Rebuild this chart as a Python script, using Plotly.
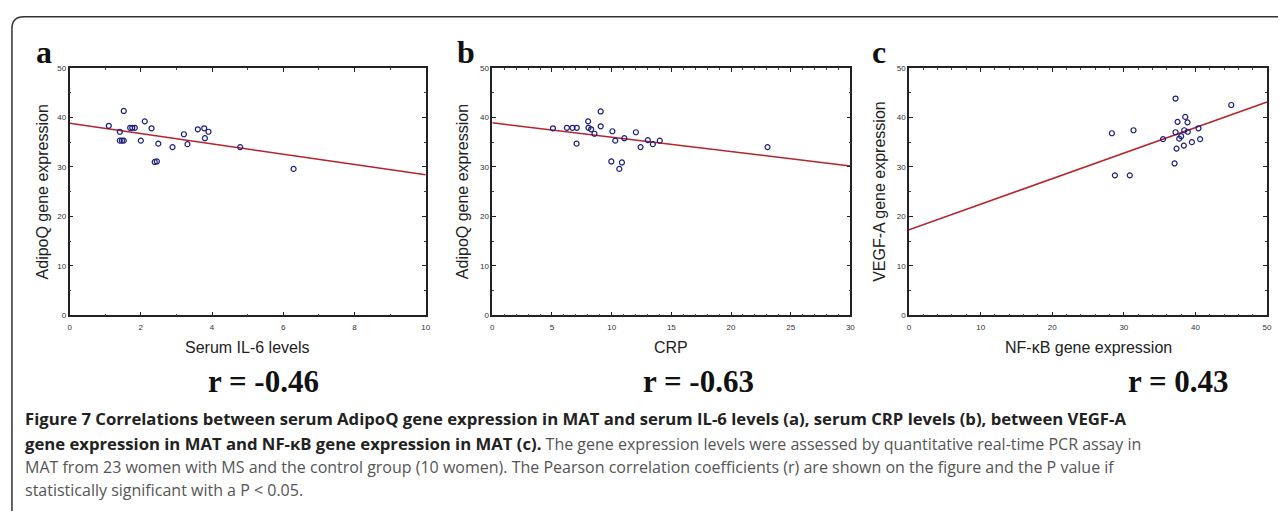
import plotly.graph_objects as go

W, H = 1283, 516

# ---------- data ----------
a_x = [1.10, 1.41, 1.41, 1.47, 1.52, 1.52, 1.70, 1.76, 1.83, 2.11, 2.00, 2.30, 2.49, 2.39, 2.45,
       2.89, 3.21, 3.31, 3.60, 3.78, 3.90, 3.80, 4.79, 6.29]
a_y = [38.3, 37.1, 35.3, 35.3, 35.3, 41.3, 37.9, 37.9, 37.9, 39.2, 35.3, 37.8, 34.7, 31.0, 31.1,
       34.0, 36.6, 34.6, 37.6, 37.8, 37.1, 35.8, 34.0, 29.6]
a_fit_x = [0, 10]
a_fit_y = [38.8, 28.4]

b_x = [5.08, 6.25, 6.72, 7.08, 7.06, 8.03, 8.06, 8.28, 8.56, 9.08, 9.08, 10.06, 9.97, 10.30,
       10.86, 10.64, 11.06, 12.03, 12.42, 13.03, 13.45, 14.03, 23.06]
b_y = [37.8, 37.9, 37.9, 37.9, 34.7, 39.2, 37.9, 37.6, 36.7, 41.2, 38.2, 37.2, 31.1, 35.3,
       30.9, 29.6, 35.8, 37.0, 34.0, 35.4, 34.6, 35.3, 34.0]
b_fit_x = [0, 30]
b_fit_y = [38.9, 30.2]

c_x = [28.33, 28.75, 30.83, 31.35, 35.47, 37.22, 37.50, 37.22, 37.36, 37.08, 37.73, 38.00,
       38.38, 38.43, 38.57, 38.89, 38.93, 39.50, 40.42, 40.65, 45.00]
c_y = [36.8, 28.3, 28.3, 37.4, 35.6, 43.8, 39.1, 37.0, 33.7, 30.7, 35.7, 36.2,
       34.3, 37.4, 40.1, 39.0, 37.1, 35.0, 37.8, 35.6, 42.5]
c_fit_x = [0, 50]
c_fit_y = [17.3, 43.1]

panel_letters = ["a", "b", "c"]
x_titles = ["Serum IL-6 levels", "CRP", "NF-\u03baB gene expression"]
y_titles = ["AdipoQ gene expression", "AdipoQ gene expression", "VEGF-A gene expression"]
r_labels = ["r = -0.46", "r = -0.63", "r = 0.43"]
x_ranges = [[0, 10], [0, 30], [0, 50]]
x_dticks = [2, 5, 10]
x_minor = [1, 1, 2]
y_range = [0, 50]

BOLD = "<span style='font-size:16.7px;color:#222'><b>{}</b></span>"
caption_lines = [
    BOLD.format("Figure 7 Correlations between serum AdipoQ gene expression in MAT and serum IL-6 levels (a), serum CRP levels (b), between VEGF-A"),
    BOLD.format("gene expression in MAT and NF-\u03baB gene expression in MAT (c).") + " The gene expression levels were assessed by quantitative real-time PCR assay in",
    "MAT from 23 women with MS and the control group (10 women). The Pearson correlation coefficients (r) are shown on the figure and the P value if",
    "statistically significant with a P < 0.05.",
]

# ---------- layout helpers ----------
def px(x):
    return x / W

def py(y):
    return 1 - y / H

x_domains = [[px(68), px(426)], [px(493), px(853)], [px(912), px(1272)]]
y_domain = [py(317), py(65)]
letter_x = [32, 455, 873]
ytitle_x = [41, 463, 882]
r_x = [263, 700, 1183]

series = [(a_x, a_y, a_fit_x, a_fit_y), (b_x, b_y, b_fit_x, b_fit_y), (c_x, c_y, c_fit_x, c_fit_y)]

fig = go.Figure()
annotations = []
for i, (sx, sy, fx, fy) in enumerate(series):
    xa = "x" if i == 0 else f"x{i+1}"
    ya = "y" if i == 0 else f"y{i+1}"
    fig.add_trace(go.Scatter(x=fx, y=fy, mode="lines", xaxis=xa, yaxis=ya,
                             line=dict(color="#b5232b", width=1.5), showlegend=False,
                             hoverinfo="skip"))
    fig.add_trace(go.Scatter(x=sx, y=sy, mode="markers", xaxis=xa, yaxis=ya,
                             marker=dict(symbol="circle-open", size=5, color="#1c1f80",
                                         line=dict(width=1.2, color="#1c1f80")),
                             showlegend=False))
    axis_common = dict(showline=True, linecolor="#222", linewidth=1.5, mirror="ticks",
                       ticks="inside", ticklen=4, tickcolor="#222", tickwidth=1,
                       showgrid=False, zeroline=False,
                       tickfont=dict(family="Arial", size=8, color="#333"))
    xk = "xaxis" if i == 0 else f"xaxis{i+1}"
    yk = "yaxis" if i == 0 else f"yaxis{i+1}"
    fig.update_layout(**{
        xk: dict(domain=x_domains[i], range=x_ranges[i], dtick=x_dticks[i], anchor=ya,
                 minor=dict(dtick=x_minor[i], ticks="inside", ticklen=2, tickcolor="#444"),
                 ticklabelstandoff=3, **axis_common),
        yk: dict(domain=y_domain, range=y_range, dtick=10, anchor=xa,
                 minor=dict(dtick=5, ticks="inside", ticklen=2, tickcolor="#444"),
                 **axis_common),
    })
    annotations.append(dict(text=f"<b>{panel_letters[i]}</b>", x=px(letter_x[i]), y=py(28),
                            xref="paper", yref="paper", xanchor="left", yanchor="top",
                            showarrow=False, font=dict(family="Liberation Serif", size=32, color="#111")))
    annotations.append(dict(text=y_titles[i], x=px(ytitle_x[i]), y=py(191), textangle=-90,
                            xref="paper", yref="paper", xanchor="center", yanchor="middle",
                            showarrow=False, font=dict(family="Liberation Sans", size=16, color="#222")))
    annotations.append(dict(text=x_titles[i], x=(x_domains[i][0] + x_domains[i][1]) / 2, y=py(350),
                            xref="paper", yref="paper", xanchor="center", yanchor="middle",
                            showarrow=False, font=dict(family="Liberation Sans", size=16, color="#222")))
    annotations.append(dict(text=f"<b>{r_labels[i]}</b>", x=px(r_x[i]), y=py(384),
                            xref="paper", yref="paper", xanchor="center", yanchor="middle",
                            showarrow=False, font=dict(family="Liberation Serif", size=31, color="#111")))

cap_y = [422, 447, 471, 495]
for j, line in enumerate(caption_lines):
    annotations.append(dict(text=line, x=px(21), y=py(cap_y[j]), xref="paper", yref="paper",
                            xanchor="left", yanchor="middle", showarrow=False,
                            font=dict(family="Open Sans", size=16, color="#555")))

frame_path = (f"M {px(10)},{py(516)} L {px(10)},{py(25)} "
              f"Q {px(10)},{py(13)} {px(22)},{py(13)} L {px(1283)},{py(13)}")

fig.update_layout(
    width=W, height=H,
    margin=dict(l=0, r=0, t=0, b=0),
    paper_bgcolor="white", plot_bgcolor="white",
    annotations=annotations,
    shapes=[dict(type="path", path=frame_path, xref="paper", yref="paper",
                 line=dict(color="#333", width=1.5))],
)

fig.write_html("out.html", config={"displayModeBar": False},
               post_script="document.body.style.margin='0';document.body.style.overflow='hidden';")
